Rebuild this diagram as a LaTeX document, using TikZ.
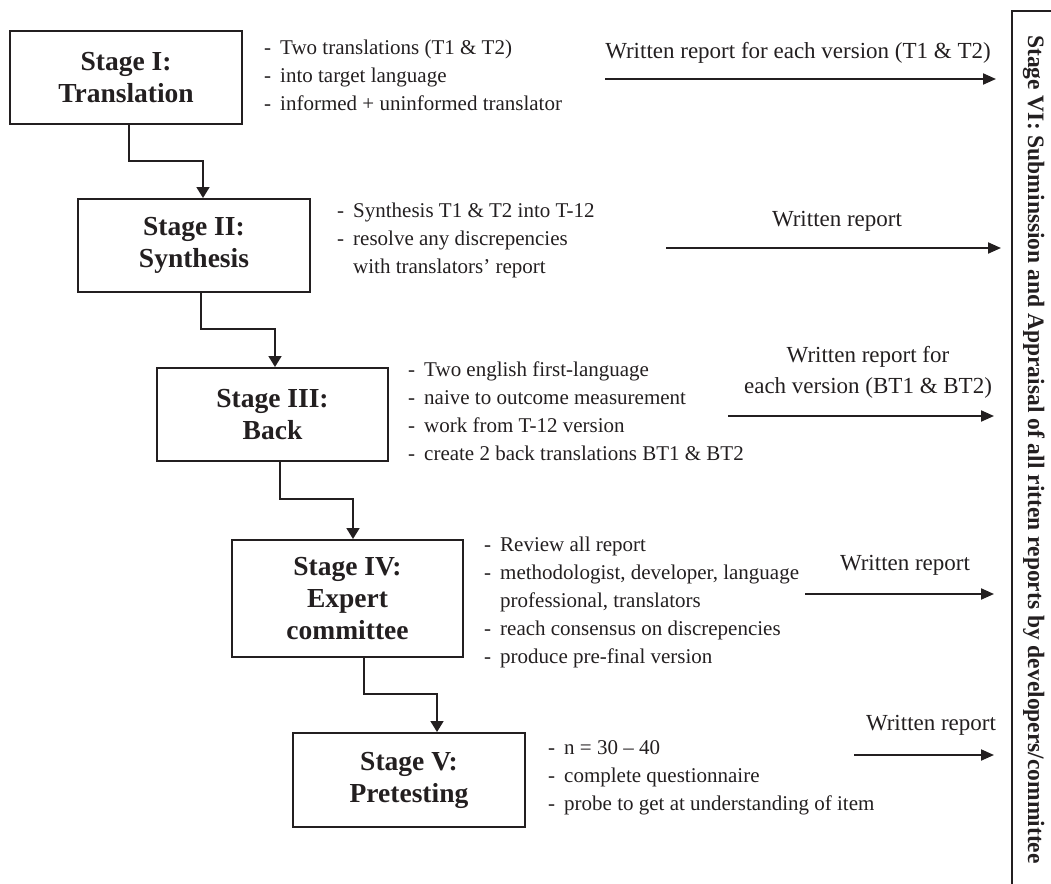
\documentclass[tikz,border=0pt]{standalone}
\usepackage{fontspec}
\setmainfont{Liberation Serif}
\usetikzlibrary{arrows.meta}
\definecolor{ink}{HTML}{231F20}
\newcommand{\bdash}{\makebox[16pt][l]{-}}
\newcommand{\bind}{\hspace*{16pt}}
\begin{document}
\begin{tikzpicture}[x=1pt,y=-1pt,
  stagebox/.style={draw=ink, line width=2pt, align=center, inner sep=0pt,
    font=\fontsize{27.5}{32}\selectfont\bfseries, text=ink},
  bullets/.style={anchor=north west, align=left, inner sep=0pt,
    font=\fontsize{21}{28}\selectfont, text=ink},
  lbl/.style={align=center, inner sep=0pt, font=\fontsize{23}{31}\selectfont, text=ink},
  flow/.style={draw=ink, line width=1.8pt, -{Triangle[length=11pt,width=13pt]}},
  rep/.style={draw=ink, line width=2pt, -{Triangle[length=13pt,width=11pt]}}]
\useasboundingbox (0,0) rectangle (1051,883);

% stage boxes
\node[stagebox, minimum width=232pt, minimum height=93pt] (s1) at (126,77.5) {Stage I:\\Translation};
\node[stagebox, minimum width=232pt, minimum height=93pt] (s2) at (194,245.5) {Stage II:\\Synthesis};
\node[stagebox, minimum width=231pt, minimum height=93pt] (s3) at (272.5,414.5) {Stage III:\\Back};
\node[stagebox, minimum width=231pt, minimum height=117pt] (s4) at (347.5,598.5) {Stage IV:\\Expert\\committee};
\node[stagebox, minimum width=232pt, minimum height=94pt] (s5) at (409,780) {Stage V:\\Pretesting};

% bullet texts
\node[bullets] (b1) at (264,34.4) {\strut\bdash Two translations (T1 \& T2)\\
  \bdash into target language\\
  \bdash informed + uninformed translator};
\node[bullets] (b2) at (337,197.4) {\strut\bdash Synthesis T1 \& T2 into T-12\\
  \bdash resolve any discrepencies\\
  \bind with translators’ report};
\node[bullets] (b3) at (408,356.4) {\strut\bdash Two english first-language\\
  \bdash naive to outcome measurement\\
  \bdash work from T-12 version\\
  \bdash create 2 back translations BT1 \& BT2};
\node[bullets] (b4) at (484,531.4) {\strut\bdash Review all report\\
  \bdash methodologist, developer, language\\
  \bind professional, translators\\
  \bdash reach consensus on discrepencies\\
  \bdash produce pre-final version};
\node[bullets] (b5) at (548,734.4) {\strut\bdash n = 30 – 40\\
  \bdash complete questionnaire\\
  \bdash probe to get at understanding of item};

% flow connectors
\draw[flow] ([xshift=3pt]s1.south) -- ++(0,36) -| ([xshift=9pt]s2.north);
\draw[flow] ([xshift=7pt]s2.south) -- ++(0,36) -| ([xshift=2.5pt]s3.north);
\draw[flow] ([xshift=7.5pt]s3.south) -- ++(0,37) -| ([xshift=5.5pt]s4.north);
\draw[flow] ([xshift=16.5pt]s4.south) -- ++(0,36) -| ([xshift=28pt]s5.north);

% stage VI box
\node[draw=ink, line width=2pt, minimum width=60pt, minimum height=900pt, inner sep=0pt] (vi) at (1042,461) {};
\node[rotate=-90, anchor=base, inner sep=0pt, text=ink,
  font=\fontsize{23.5}{28}\selectfont\bfseries] (vit) at (1028,449.5)
  {Stage VI: Subminssion and Appraisal of all ritten reports by developers/committee};

% report arrows
\coordinate (a1) at (605,79);
\coordinate (a2) at (666,248);
\coordinate (a3) at (728,416);
\coordinate (a4) at (805,594);
\coordinate (a5) at (854,755);
\draw[rep, shorten >=15pt] (a1) -- (a1 -| vi.west);
\draw[rep, shorten >=10pt] (a2) -- (a2 -| vi.west);
\draw[rep, shorten >=17pt] (a3) -- (a3 -| vi.west);
\draw[rep, shorten >=17pt] (a4) -- (a4 -| vi.west);
\draw[rep, shorten >=17pt] (a5) -- (a5 -| vi.west);

\node[lbl] (l1) at (798,53) {Written report for each version (T1 \& T2)};
\node[lbl] (l2) at (837,221) {Written report};
\node[lbl] (l3) at (868,372) {Written report for\\each version (BT1 \& BT2)};
\node[lbl] (l4) at (905,565) {Written report};
\node[lbl] (l5) at (931,725) {Written report};
\end{tikzpicture}
\end{document}
